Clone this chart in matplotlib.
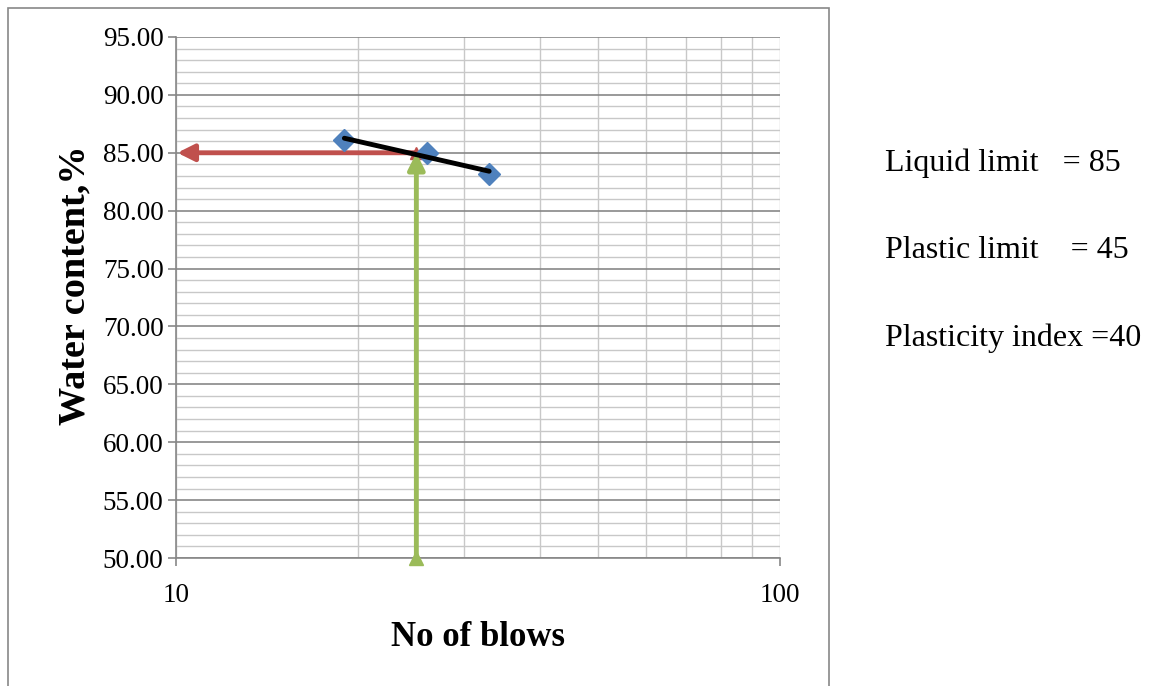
import numpy as np
import matplotlib
matplotlib.use("Agg")
import matplotlib.pyplot as plt
from matplotlib.patches import Rectangle
from matplotlib.ticker import FixedLocator, NullFormatter

blows = [19.0, 26.0, 33.0]
water = [86.1, 85.0, 83.2]
liquid_limit = 85
ll_blows = 25
texts = ["Liquid limit   = 85", "Plastic limit    = 45", "Plasticity index =40"]

plt.rcParams['font.family'] = ['Liberation Serif', 'DejaVu Serif']

fig = plt.figure(figsize=(11.55, 6.86), dpi=100)
ax = fig.add_axes([176/1155, 1-558/686, (780-176)/1155, (558-37)/686])

ax.set_xscale('log')
ax.set_xlim(10, 100)
ax.set_ylim(50, 95)

ax.xaxis.set_major_locator(FixedLocator([10, 100]))
ax.xaxis.set_minor_locator(FixedLocator([20, 30, 40, 50, 60, 70, 80, 90]))
ax.xaxis.set_minor_formatter(NullFormatter())
ax.set_xticklabels(['10', '100'])
ax.set_yticks(np.arange(50, 95.1, 5))
ax.set_yticklabels([f"{v:.2f}" for v in np.arange(50, 95.1, 5)])
ax.yaxis.set_minor_locator(FixedLocator(np.arange(50, 95.1, 1)))

ax.grid(True, which='major', axis='y', color='#878787', lw=1.2)
ax.grid(True, which='minor', axis='y', color='#c8c8c8', lw=1.0)
ax.grid(True, which='both', axis='x', color='#c8c8c8', lw=1.0)
ax.set_axisbelow(True)

for s in ['top', 'right']:
    ax.spines[s].set_visible(False)
for s in ['left', 'bottom']:
    ax.spines[s].set_color('#878787')
    ax.spines[s].set_linewidth(1.2)

ax.tick_params(axis='both', which='major', labelsize=19.5, color='#878787', length=6, width=1.2, pad=3)
ax.tick_params(axis='x', which='minor', length=0)
ax.tick_params(axis='y', which='minor', length=0)
ax.tick_params(axis='x', which='major', pad=12)

# red arrow (liquid limit)
ax.annotate('', xy=(10.05, liquid_limit), xytext=(ll_blows, liquid_limit),
            arrowprops=dict(arrowstyle='-|>,head_length=1.0,head_width=0.5', color='#c0504d', lw=3.5,
                            shrinkA=0, shrinkB=0), zorder=3)
ax.plot([ll_blows], [liquid_limit], marker='^', color='#c0504d', ms=9, zorder=3)

# green arrow
ax.annotate('', xy=(ll_blows, liquid_limit), xytext=(ll_blows, 50),
            arrowprops=dict(arrowstyle='-|>,head_length=1.0,head_width=0.5', color='#9bbb59', lw=3.5,
                            shrinkA=0, shrinkB=0), zorder=3)
ax.plot([ll_blows], [50], marker='^', color='#9bbb59', ms=10, zorder=3, clip_on=False)

# data points
ax.plot(blows, water, linestyle='none', marker='D', color='#4f81bd', ms=11, zorder=4)

# trendline (log fit)
coef = np.polyfit(np.log10(blows), water, 1)
xt = np.array([blows[0], blows[-1]])
ax.plot(xt, coef[0]*np.log10(xt)+coef[1], color='black', lw=3.5, zorder=5, solid_capstyle='round')

ax.set_xlabel('No of blows', fontsize=25, fontweight='bold', labelpad=9)
ax.set_ylabel('Water content,%', fontsize=27.5, fontweight='bold')
ax.yaxis.set_label_coords(-0.139, 0.524)

# outer frame
fig.patches.append(Rectangle((8/1155, -0.05), (829-8)/1155, 1.05-8/686,
                             transform=fig.transFigure, fill=False, edgecolor='#878787', lw=1.2))

ys = [163, 250, 338]
for t, y in zip(texts, ys):
    fig.text(885/1155, 1-y/686, t, fontsize=23, va='center', ha='left')

fig.savefig('out.png', dpi=100)
